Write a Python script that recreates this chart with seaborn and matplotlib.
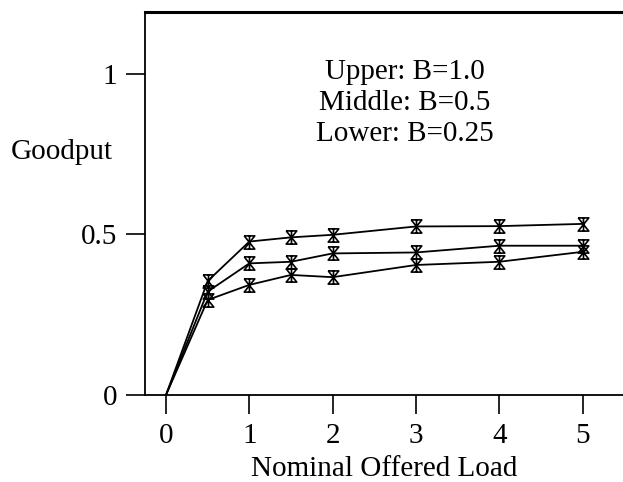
import matplotlib
matplotlib.use("Agg")
import matplotlib.pyplot as plt
import matplotlib.transforms as mtransforms
import seaborn as sns
import numpy as np
import pandas as pd
from matplotlib.path import Path

load = [0, 0.5, 1, 1.5, 2, 3, 4, 5]
upper = [0.0, 0.355, 0.478, 0.491, 0.499, 0.525, 0.526, 0.533]
middle = [0.0, 0.322, 0.410, 0.415, 0.441, 0.444, 0.465, 0.465]
lower = [0.0, 0.296, 0.343, 0.374, 0.367, 0.405, 0.415, 0.446]
xticks = [0, 1, 2, 3, 4, 5]
yticks = [0, 0.5, 1]
ytick_labels = ["0", "0.5", "1"]
note = "Upper: B=1.0\nMiddle: B=0.5\nLower: B=0.25"

sns.set_theme(style="white")
plt.rcParams['font.family'] = ['Liberation Serif', 'DejaVu Serif']

fig = plt.figure(figsize=(6.23, 4.82), dpi=100)
ax = fig.add_axes([145/623, 87/482, 1 - 145/623, (395-12)/482])

verts = [(-0.8, 1), (0.8, 1), (-0.8, -1), (0.8, -1), (-0.8, 1), (0, 1), (0, -1)]
codes = [Path.MOVETO, Path.LINETO, Path.LINETO, Path.LINETO, Path.LINETO,
         Path.MOVETO, Path.LINETO]
hourglass = Path(verts, codes)

df = pd.DataFrame({
    "load": load * 3,
    "goodput": upper + middle + lower,
    "series": ["Upper"] * len(load) + ["Middle"] * len(load) + ["Lower"] * len(load),
})
for name in ["Upper", "Middle", "Lower"]:
    sub0 = df[df["series"] == name]
    sub = sub0.iloc[1:]
    sns.lineplot(data=sub0, x="load", y="goodput", color="black", lw=1.3, ax=ax,
                 estimator=None, sort=False)
    ax.plot(sub["load"], sub["goodput"], ls="none", marker=hourglass, ms=9.5,
            mfc="none", mec="black", mew=1.2)

ax.set_xlim(-0.252, 5.484)
ax.set_ylim(0, 1.193)
ax.set_xticks(xticks)
ax.set_xticklabels([str(t) for t in xticks])
ax.set_yticks(yticks)
ax.set_yticklabels(ytick_labels)
ax.tick_params(axis="both", direction="out", length=14, width=1.2, color="black",
               labelsize=21, pad=6, bottom=True, left=True, labelcolor="black")
for s in ["left", "bottom", "top"]:
    ax.spines[s].set_visible(True)
    ax.spines[s].set_color("black")
    ax.spines[s].set_linewidth(1.3)
ax.spines["top"].set_linewidth(2.2)
ax.spines["right"].set_visible(False)

ax.set_xlabel("Nominal Offered Load", fontsize=21, color="black", labelpad=5)
ax.set_ylabel("Goodput", fontsize=21, color="black", rotation=0, ha="center", va="center")
ax.yaxis.set_label_coords(62, 482 - 152, transform=mtransforms.IdentityTransform())
fig.text(405, 482 - 103, note, transform=mtransforms.IdentityTransform(),
         fontsize=21, ha="center", va="center", linespacing=1.25, color="black")

fig.savefig("out.png", dpi=100)
